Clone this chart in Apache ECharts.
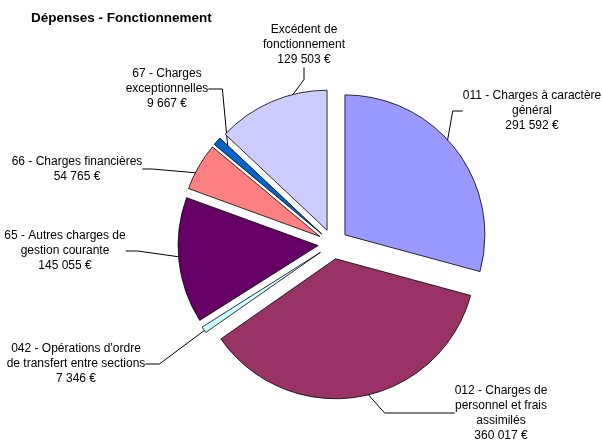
<!DOCTYPE html>
<html>
<head>
<meta charset="utf-8">
<script src="https://cdn.jsdelivr.net/npm/echarts@6/dist/echarts.min.js"></script>
<style>
    html, body { margin: 0; padding: 0; background: #fff; }
    #chart { width: 602px; height: 443px; }
</style>
</head>
<body>
<div id="chart"></div>
<script>
(function () {
    'use strict';

    var categories = [
        '011 - Charges à caractère\ngénéral',
        '012 - Charges de\npersonnel et frais\nassimilés',
        "042 - Opérations d'ordre\nde transfert entre sections",
        '65 - Autres charges de\ngestion courante',
        '66 - Charges financières',
        '67 - Charges\nexceptionnelles',
        'Excédent de\nfonctionnement'
    ];
    var values = [291592, 360017, 7346, 145055, 54765, 9667, 129503];
    var colors = ['#9999FF', '#993366', '#CCFFFF', '#660066', '#FF8080', '#0066CC', '#CCCCFF'];

    // where each label block sits (centre x, middle y) and its leader stub
    var labelPos = [[532, 111], [501, 413], [76, 364], [65, 251], [77, 169], [167, 89], [304, 45]];
    var leaderStub = [10, 70, 14, 12, 10, 14, 12];

    var center = [333, 244];
    var radius = 140;

    function formatEuro(v) {
        return String(v).replace(/\B(?=(\d{3})+(?!\d))/g, ' ') + ' €';
    }

    var sliceData = [];
    var labelData = [];
    for (var i = 0; i < values.length; i++) {
        sliceData.push({
            name: categories[i],
            value: values[i],
            selected: true,
            itemStyle: { color: colors[i] }
        });
        labelData.push({
            name: categories[i],
            value: values[i],
            labelLine: { length2: leaderStub[i] }
        });
    }

    var myChart = echarts.init(document.getElementById('chart'), null, { renderer: 'canvas' });

    myChart.setOption({
        animation: false,
        backgroundColor: '#fff',
        title: {
            text: 'Dépenses - Fonctionnement',
            left: 26,
            top: 6,
            textStyle: {
                fontFamily: 'Liberation Sans',
                fontSize: 13.5,
                fontWeight: 'bold',
                color: '#000'
            }
        },
        series: [{
            // exploded slices
            type: 'pie',
            z: 3,
            center: center,
            radius: radius,
            startAngle: 90,
            clockwise: true,
            selectedMode: 'multiple',
            selectedOffset: 15,
            silent: true,
            itemStyle: {
                borderColor: '#000',
                borderWidth: 0.8
            },
            label: { show: false },
            labelLine: { show: false },
            data: sliceData
        }, {
            // same pie, transparent, carrying the labels and leader lines
            type: 'pie',
            z: 1,
            center: center,
            radius: radius,
            startAngle: 90,
            clockwise: true,
            avoidLabelOverlap: false,
            silent: true,
            itemStyle: {
                color: 'rgba(0,0,0,0)',
                borderWidth: 0
            },
            label: {
                show: true,
                position: 'outside',
                fontFamily: 'Liberation Sans',
                fontSize: 12,
                lineHeight: 15,
                color: '#000',
                align: 'center',
                formatter: function (p) {
                    return p.name + '\n' + formatEuro(p.value);
                }
            },
            labelLine: {
                show: true,
                length: 10,
                length2: 10,
                lineStyle: { color: '#000', width: 1 }
            },
            labelLayout: function (p) {
                var pos = labelPos[p.dataIndex];
                return {
                    x: pos[0],
                    y: pos[1],
                    align: 'center',
                    verticalAlign: 'middle'
                };
            },
            data: labelData
        }]
    });
}());
</script>
</body>
</html>
